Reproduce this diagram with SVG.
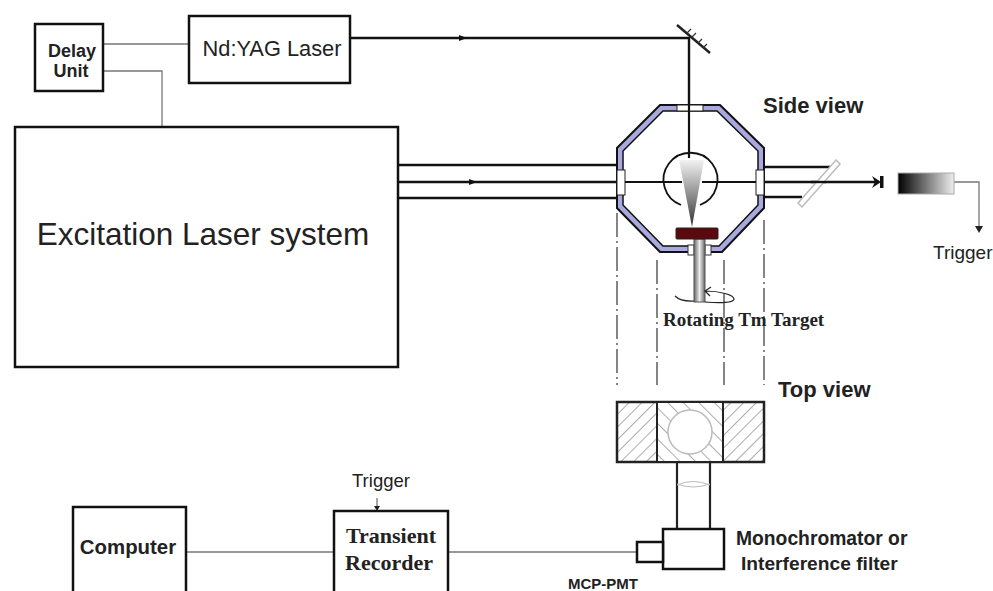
<svg xmlns="http://www.w3.org/2000/svg" width="993" height="591" viewBox="0 0 993 591">
<style>
.box{fill:#fff;stroke:#111;stroke-width:2.5}
.beam{fill:none;stroke:#111;stroke-width:2.4}
.thin{fill:none;stroke:#777;stroke-width:1.3}
.dash{fill:none;stroke:#444;stroke-width:1.3;stroke-dasharray:24 4 2 4}
.a{font-family:"Liberation Sans",Arial,sans-serif;fill:#222}
.b{font-family:"Liberation Sans",Arial,sans-serif;font-weight:700;fill:#222}
.s{font-family:"Liberation Serif","Times New Roman",serif;font-weight:700;fill:#222}
</style>
<defs>
<linearGradient id="cone" x1="0" y1="0" x2="0" y2="1"><stop offset="0" stop-color="#f2f2f2"/><stop offset="1" stop-color="#333"/></linearGradient>
<linearGradient id="det" x1="0" y1="0" x2="1" y2="0"><stop offset="0" stop-color="#000"/><stop offset="1" stop-color="#eee"/></linearGradient>
<linearGradient id="rod" x1="0" y1="0" x2="1" y2="0"><stop offset="0" stop-color="#666"/><stop offset=".5" stop-color="#eee"/><stop offset="1" stop-color="#666"/></linearGradient>
<pattern id="hatch" width="9" height="9" patternUnits="userSpaceOnUse" patternTransform="rotate(45)"><rect width="9" height="9" fill="#fff"/><line x1="0" y1="0" x2="0" y2="9" stroke="#888" stroke-width="1.4"/></pattern>
<pattern id="hatch2" width="11" height="11" patternUnits="userSpaceOnUse" patternTransform="rotate(-45)"><rect width="11" height="11" fill="#fff"/><line x1="0" y1="0" x2="0" y2="11" stroke="#888" stroke-width="1.4"/></pattern>
</defs>
<rect width="993" height="591" fill="#fff"/>
<g id="connectors">
<path class="thin" d="M103 44H189M103 71H162V127"/>
<path class="beam" d="M350 38H689V160"/>
<path d="M459 35l8 3-8 3z" fill="#111"/>
<path class="beam" d="M398 165H617M398 182H617M398 198H617"/>
<path d="M469 179l8 3-8 3z" fill="#111"/>
<path class="beam" d="M764 167H830M764 182H876M764 197H802"/>
<path d="M872 176l9 6-9 6 3-6z" fill="#111"/><rect x="880" y="176" width="3.500" height="12" fill="#111"/>
<path class="thin" d="M954 182H979V226"/>
<path d="M975 226h8l-4 7z" fill="#222"/>
<path class="thin" d="M186 552H334M448 552H637"/>
<path class="thin" d="M377 498V506"/>
<path d="M374 506h6l-3 5z" fill="#222"/>
<path class="dash" d="M617 213V385M657 260V385M724 260V385M764 220V385"/>
</g>
<g id="mirror"><path d="M677 25L710 53" stroke="#222" stroke-width="2.500" fill="none"/><path d="M687 33l4-4M692 37l4-4M698 43l4-4M703 48l4-4" stroke="#333" stroke-width="1.200" fill="none"/></g>
<g id="delay-unit"><rect class="box" x="35" y="24" width="68" height="67"/><text class="b" x="72" y="57" font-size="18" text-anchor="middle">Delay</text><text class="b" x="71" y="77" font-size="18" text-anchor="middle">Unit</text></g>
<g id="ndyag"><rect class="box" x="189" y="16" width="161" height="67"/><text class="a" x="272" y="56" font-size="21.800" text-anchor="middle">Nd:YAG Laser</text></g>
<g id="excitation"><rect class="box" x="15" y="127" width="383" height="240"/><text class="a" x="203" y="245" font-size="31.500" text-anchor="middle">Excitation Laser system</text></g>
<g id="chamber">
<polygon points="660,105 720,105 764,148 764,208 722,252 660,252 617,208 617,148" fill="#a9a9e0" stroke="#111" stroke-width="2"/>
<polygon points="663,111 717,111 758,151 758,205 719,246 663,246 623,205 623,151" fill="#fff" stroke="#111" stroke-width="1.500"/>
<rect x="677" y="105" width="26" height="6" fill="#fff" stroke="#222"/>
<rect x="617" y="170" width="8" height="25" fill="#fff" stroke="#222"/>
<rect x="756" y="170" width="8" height="25" fill="#fff" stroke="#222"/>
<path d="M681 205A27 27 0 1 1 700 205" fill="none" stroke="#111" stroke-width="1.800"/>
<path d="M625 182H682M702 182H756" stroke="#111" stroke-width="1.800"/>
<path d="M689 105V158" stroke="#111" stroke-width="2.200"/>
<polygon points="679,160 704,160 692,227" fill="url(#cone)"/>
<rect x="688" y="245" width="6" height="10" fill="#fff" stroke="#333"/>
<rect x="705" y="245" width="6" height="10" fill="#fff" stroke="#333"/>
<rect x="694" y="239" width="11" height="63" fill="url(#rod)" stroke="#555"/>
<rect x="676" y="228" width="42" height="11" rx="1" fill="#5a0a0f" stroke="#222"/>
<path d="M675 296c6 6 14 5 19 5M705 291c15 0 29 4 29 8s-14 4-29 3M711 287l-6 4 5 5" fill="none" stroke="#222" stroke-width="1.200"/>
</g>
<g id="beamsplitter"><polygon points="836,160 840,164 802,207 798,203" fill="#fff" stroke="#bbb" stroke-width="1.500"/><path d="M811 182H826" stroke="#111" stroke-width="2.400"/></g>
<g id="detector"><rect x="898" y="173" width="56" height="21" fill="url(#det)" stroke="#aaa"/></g>
<g id="top-view">
<rect x="617" y="402" width="147" height="60" fill="url(#hatch)" stroke="#222" stroke-width="2.500"/>
<rect x="657" y="402" width="66" height="60" fill="url(#hatch2)" stroke="#222" stroke-width="2"/>
<circle cx="690" cy="432" r="22" fill="#fff" stroke="#bbb" stroke-width="1.500"/>
<path d="M677 462V529M710 462V529" stroke="#222" stroke-width="2.200"/>
<path d="M677 484Q693 490 710 484M677 485Q693 478 710 485" stroke="#bbb" fill="none"/>
</g>
<g id="monochromator"><rect class="box" x="663" y="529" width="61" height="40" stroke-width="2"/><rect class="box" x="637" y="542" width="26" height="20" stroke-width="2"/><text class="b" x="736" y="545" font-size="19.300">Monochromator or</text><text class="b" x="741" y="570" font-size="19.200">Interference filter</text></g>
<g id="computer"><path class="box" d="M73 591V507H186V591"/><text class="b" x="128" y="554" font-size="20.400" text-anchor="middle">Computer</text></g>
<g id="recorder"><path class="box" d="M334 591V511H448V591"/><text class="s" x="391" y="543" font-size="22" text-anchor="middle">Transient</text><text class="s" x="389" y="570" font-size="22" text-anchor="middle">Recorder</text></g>
<g id="labels">
<text class="b" x="763" y="113" font-size="22">Side view</text>
<text class="b" x="778" y="397" font-size="22">Top view</text>
<text class="s" x="663" y="326" font-size="19">Rotating Tm Target</text>
<text class="a" x="933" y="259" font-size="19">Trigger</text>
<text class="a" x="352" y="487" font-size="18.500">Trigger</text>
<text class="b" x="568" y="589" font-size="15">MCP-PMT</text>
</g>
</svg>
